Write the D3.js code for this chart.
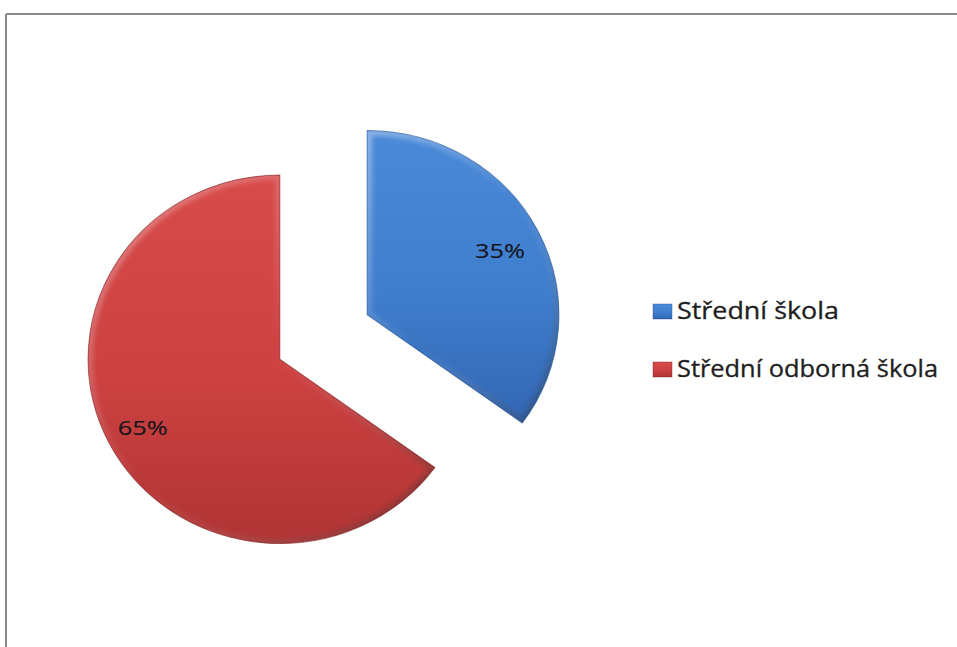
<!DOCTYPE html>
<html>
<head>
<meta charset="utf-8">
<script src="https://cdn.jsdelivr.net/npm/d3@7"></script>
<style>
  html, body { margin: 0; padding: 0; background: #ffffff; overflow: hidden; }
  svg { display: block; }
</style>
</head>
<body>
<svg id="chart" width="957" height="647"></svg>
<script>
// School type shares
const categories = ["Střední škola", "Střední odborná škola"];
const values = [35, 65];
const valueLabels = ["35%", "65%"];
const baseColors = ["#3f7ecd", "#cd4141"];
const lightColors = ["#4b8ad8", "#d84b4b"];
const darkColors = ["#3366b3", "#b03434"];
const rimColors = ["#1f4f8f", "#7a1f1f"];

const W = 957, H = 647;
const svg = d3.select("#chart");
const defs = svg.append("defs");

// outer frame: top and left edges (the box continues past the page)
const frame = svg.append("g")
  .attr("stroke", "#8a8a8a")
  .attr("stroke-width", 2)
  .attr("fill", "none");
frame.append("line").attr("x1", 6).attr("y1", 14).attr("x2", W).attr("y2", 14);
frame.append("line").attr("x1", 6).attr("y1", 14).attr("x2", 6).attr("y2", H);

const cx = 323.5, cy = 337;   // pie centre before explosion
const radius = 188;
const explode = 49;

const pie = d3.pie().sort(null).startAngle(0).endAngle(2 * Math.PI);
const arcs = pie(values);
const arc = d3.arc().innerRadius(0).outerRadius(radius);
const labelArc = d3.arc().innerRadius(radius * 0.79).outerRadius(radius * 0.79);

// gradients for each slice
arcs.forEach((a, i) => {
  const g = defs.append("linearGradient")
    .attr("id", "fill" + i)
    .attr("x1", "0").attr("y1", "0").attr("x2", "0").attr("y2", "1");
  g.append("stop").attr("offset", "0%").attr("stop-color", lightColors[i]);
  g.append("stop").attr("offset", "55%").attr("stop-color", baseColors[i]);
  g.append("stop").attr("offset", "100%").attr("stop-color", darkColors[i]);

  const b = defs.append("linearGradient")
    .attr("id", "bevel" + i)
    .attr("x1", "0").attr("y1", "0").attr("x2", "1").attr("y2", "1");
  b.append("stop").attr("offset", "0%").attr("stop-color", "#ffffff").attr("stop-opacity", 0.35);
  b.append("stop").attr("offset", "50%").attr("stop-color", "#ffffff").attr("stop-opacity", 0.0);
  b.append("stop").attr("offset", "100%").attr("stop-color", "#000000").attr("stop-opacity", 0.35);

  defs.append("clipPath").attr("id", "clip" + i)
    .append("path").attr("d", arc(a));
});

defs.append("filter").attr("id", "soft")
  .append("feGaussianBlur").attr("stdDeviation", 2);

const slices = svg.append("g")
  .selectAll("g.slice")
  .data(arcs)
  .join("g")
  .attr("class", "slice")
  .attr("transform", d => {
    const mid = (d.startAngle + d.endAngle) / 2;
    const x = cx + explode * Math.sin(mid);
    const y = cy - explode * Math.cos(mid);
    return `translate(${x},${y}) scale(1.02,0.98)`;
  });

slices.append("path")
  .attr("d", arc)
  .attr("fill", (d, i) => `url(#fill${i})`);

// bevelled rim
slices.append("g")
  .attr("clip-path", (d, i) => `url(#clip${i})`)
  .append("path")
  .attr("d", arc)
  .attr("fill", "none")
  .attr("stroke", (d, i) => `url(#bevel${i})`)
  .attr("stroke-width", 10)
  .attr("filter", "url(#soft)");

slices.append("path")
  .attr("d", arc)
  .attr("fill", "none")
  .attr("stroke", (d, i) => rimColors[i])
  .attr("stroke-opacity", 0.6)
  .attr("stroke-width", 1);

// percentage labels
slices.append("text")
  .attr("transform", d => {
    const [x, y] = labelArc.centroid(d);
    return `translate(${x - 2},${y + 2}) scale(0.98,1.02)`;
  })
  .attr("text-anchor", "middle")
  .attr("dy", 7.5)
  .attr("font-family", "'Open Sans', 'Noto Sans', sans-serif")
  .attr("font-size", 20.5)
  .attr("textLength", 50)
  .attr("lengthAdjust", "spacingAndGlyphs")
  .attr("fill", "#15151c")
  .attr("stroke", "#15151c")
  .attr("stroke-width", 0.15)
  .text((d, i) => valueLabels[i]);

// legend
const legendY = [319, 377];
const legendW = [162, 261];
const legend = svg.append("g");
categories.forEach((c, i) => {
  const lg = legend.append("g").attr("transform", `translate(653,${legendY[i]})`);
  lg.append("rect")
    .attr("x", 0).attr("y", -15)
    .attr("width", 19).attr("height", 15)
    .attr("fill", `url(#fill${i})`)
    .attr("stroke", rimColors[i])
    .attr("stroke-opacity", 0.5)
    .attr("stroke-width", 0.8);
  lg.append("text")
    .attr("x", 24).attr("y", 0)
    .attr("font-family", "'Open Sans', 'Noto Sans', sans-serif")
    .attr("font-size", 23)
    .attr("textLength", legendW[i])
    .attr("lengthAdjust", "spacingAndGlyphs")
    .attr("fill", "#1e1e1e")
    .attr("stroke", "#1e1e1e")
    .attr("stroke-width", 0.3)
    .text(c);
});
</script>
</body>
</html>
